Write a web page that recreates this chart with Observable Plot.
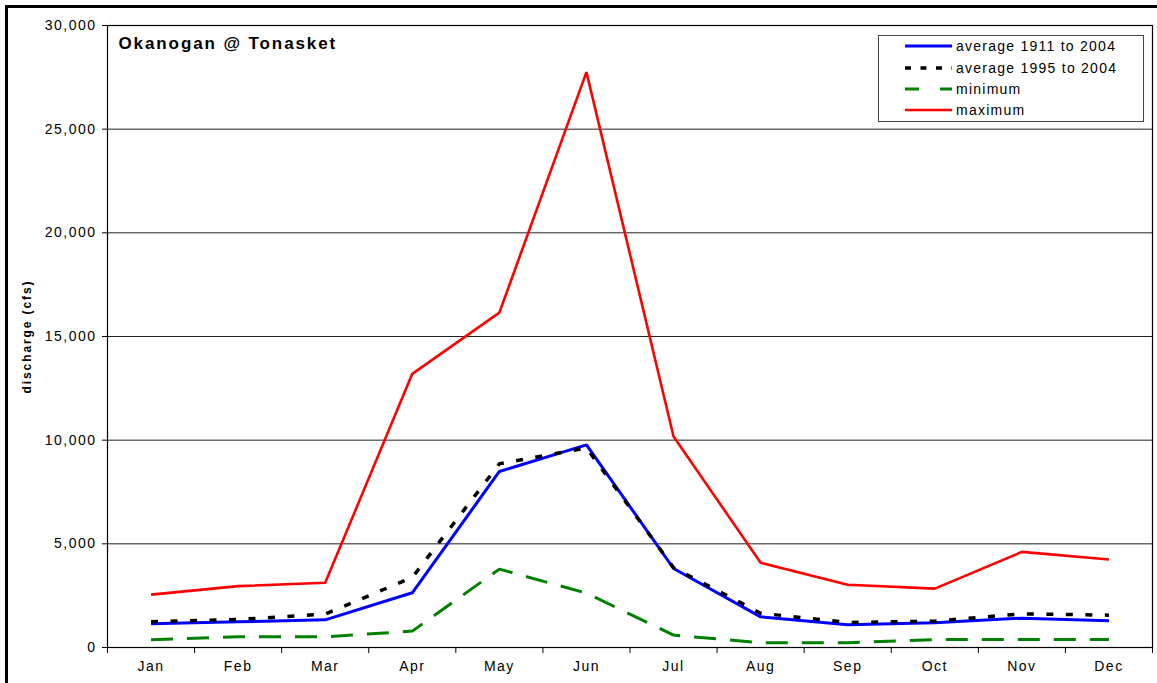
<!DOCTYPE html>
<html>
<head>
<meta charset="utf-8">
<script src="https://cdn.jsdelivr.net/npm/d3@7"></script>
<script src="https://cdn.jsdelivr.net/npm/@observablehq/plot@0.6"></script>
<style>
  html, body { margin: 0; padding: 0; background: #fff; }
  #wrap { position: relative; width: 1157px; height: 683px; overflow: hidden; font-family: "Liberation Sans", Arial, sans-serif; }
  #frameL { position: absolute; left: 5px; top: 5px; width: 3px; height: 690px; background: #000; }
  #frameT { position: absolute; left: 5px; top: 5px; width: 1160px; height: 3px; background: #000; }
  #legend { position: absolute; left: 878px; top: 35px; }
</style>
</head>
<body>
<div id="wrap">
  <div id="chart"></div>
  <div id="frameL"></div>
  <div id="frameT"></div>
  <div id="legend"></div>
</div>
<script>
const months = ["Jan","Feb","Mar","Apr","May","Jun","Jul","Aug","Sep","Oct","Nov","Dec"];
const avg1911to2004 = [1140, 1240, 1335, 2640, 8490, 9775, 3810, 1480, 1095, 1190, 1415, 1285];
const avg1995to2004 = [1240, 1350, 1610, 3380, 8860, 9630, 3850, 1655, 1205, 1270, 1625, 1560];
const minimum = [370, 515, 515, 790, 3780, 2620, 600, 225, 225, 385, 385, 385];
const maximum = [2550, 2960, 3120, 13200, 16150, 27750, 10180, 4090, 3030, 2840, 4610, 4245];
const yTicks = [0, 5000, 10000, 15000, 20000, 25000, 30000];
const seriesNames = ["average 1911 to 2004", "average 1995 to 2004", "minimum", "maximum"];
const title = "Okanogan @ Tonasket";
const yLabel = "discharge (cfs)";

const styles = [
  {stroke: "#0000ff", strokeWidth: 3, dash: null},
  {stroke: "#000000", strokeWidth: 3.5, dash: "7,12.5"},
  {stroke: "#008000", strokeWidth: 3, dash: "22,14"},
  {stroke: "#ff0000", strokeWidth: 2.6, dash: null}
];
const allSeries = [avg1911to2004, avg1995to2004, minimum, maximum];

const lineMark = (arr, s) => Plot.line(arr, {
  x: (d, i) => i, y: d => d,
  stroke: s.stroke, strokeWidth: s.strokeWidth,
  strokeDasharray: s.dash, strokeLinejoin: "miter", strokeLinecap: "butt"
});

const chart = Plot.plot({
  width: 1157,
  height: 683,
  marginLeft: 107,
  marginRight: 5,
  marginTop: 25,
  marginBottom: 36,
  style: {fontFamily: "'Liberation Sans', Arial, sans-serif", fontSize: "14px", background: "transparent", color: "#000"},
  x: {domain: [-0.5, 11.5]},
  y: {domain: [0, 30000]},
  marks: [
    Plot.gridY({ticks: yTicks, stroke: "#222", strokeOpacity: 1, strokeWidth: 1}),
    Plot.axisY({ticks: yTicks, tickFormat: d3.format(","), tickSize: 5, tickPadding: 6, fontSize: 14, label: null, stroke: "#000"}),
    Plot.axisX({ticks: d3.range(-0.5, 12, 1), tickFormat: () => "", tickSize: 6, label: null, stroke: "#000"}),
    Plot.axisX({ticks: d3.range(12), tickFormat: i => months[i], tickSize: 0, tickPadding: 14, fontSize: 14, label: null}),
    Plot.frame({stroke: "#000", strokeWidth: 1.2}),
    ...allSeries.map((arr, k) => lineMark(arr, styles[k])),
    Plot.text([title], {frameAnchor: "top-left", dx: 11, dy: 11, fontWeight: "bold", fontSize: 17, textAnchor: "start", lineAnchor: "top", className: "ttl"}),
    Plot.text([yLabel], {frameAnchor: "left", dx: -80, rotate: -90, textAnchor: "middle", fontWeight: "bold", fontSize: 12, className: "ylab"})
  ]
});
document.getElementById("chart").appendChild(chart);

// widen text to match the reference's wide glyph spacing
const svgSel = d3.select(chart);
svgSel.selectAll("text").style("letter-spacing", "1.5px");
svgSel.selectAll(".ttl text").style("letter-spacing", "1.9px");
svgSel.selectAll(".ylab text").style("letter-spacing", "1.9px");

// Legend (inside plot area, top-right)
const lw = 265, lh = 86;
const leg = d3.select("#legend").append("svg").attr("width", lw + 1).attr("height", lh + 1);
leg.append("rect").attr("x", 0.5).attr("y", 0.5).attr("width", lw).attr("height", lh)
  .attr("fill", "#fff").attr("stroke", "#444").attr("stroke-width", 1);
const rowsY = [11, 33, 54, 75];
seriesNames.forEach((name, k) => {
  const s = styles[k];
  const ln = leg.append("line").attr("x1", 27).attr("x2", 74).attr("y1", rowsY[k]).attr("y2", rowsY[k])
    .attr("stroke", s.stroke).attr("stroke-width", s.strokeWidth);
  if (k === 1) ln.attr("stroke-dasharray", "6,9.5");
  if (k === 2) ln.attr("stroke-dasharray", "14,21");
  leg.append("text").attr("x", 78).attr("y", rowsY[k]).attr("dy", "0.35em")
    .attr("font-family", "'Liberation Sans', Arial, sans-serif").attr("font-size", 14)
    .style("letter-spacing", "1.25px").text(name);
});
</script>
</body>
</html>
